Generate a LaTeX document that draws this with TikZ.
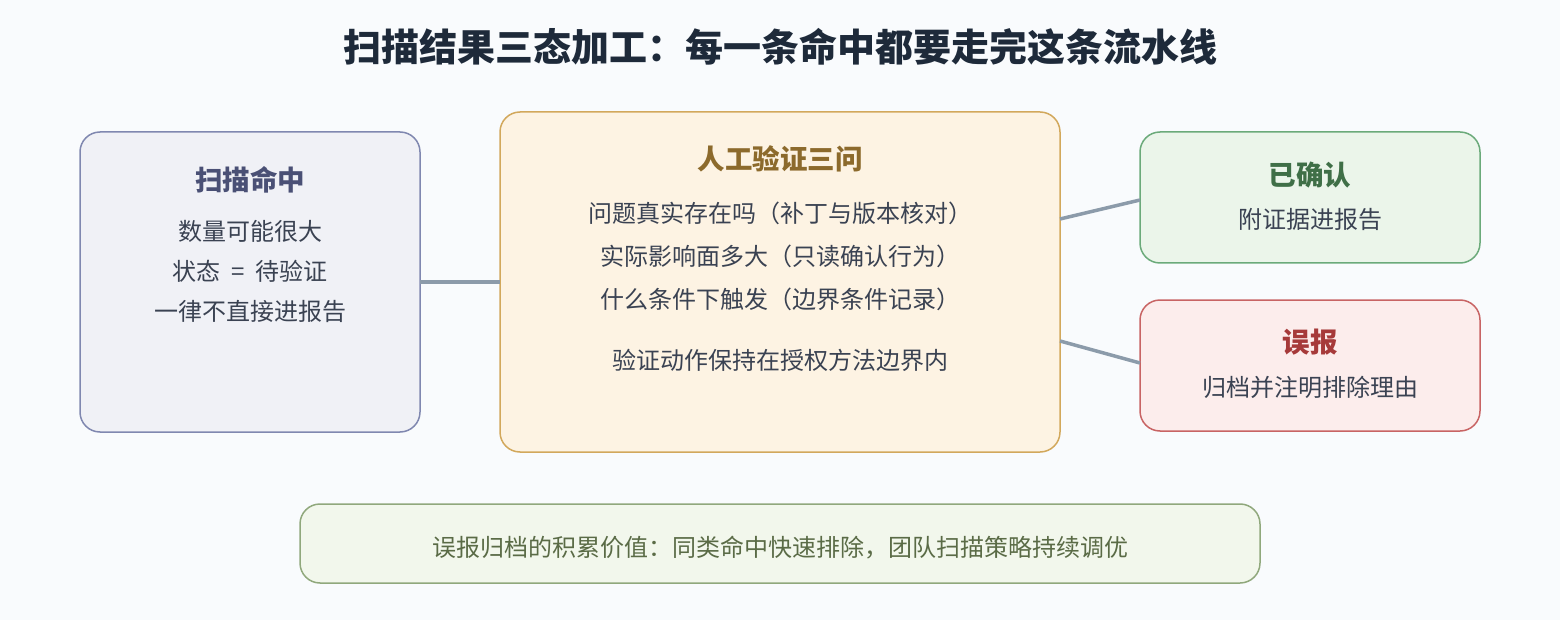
\documentclass[tikz,border=0pt]{standalone}
\usepackage{fontspec}
\setmainfont{Noto Sans CJK SC}
\newfontfamily\cjk{Noto Sans CJK SC}
\usetikzlibrary{positioning}
\definecolor{bgc}{HTML}{F9FBFD}
\definecolor{ttl}{HTML}{1E2A3A}
\definecolor{bodyc}{HTML}{3A4252}
\definecolor{lfill}{HTML}{F0F1F6}
\definecolor{ldraw}{HTML}{8088B0}
\definecolor{ltxt}{HTML}{4A5075}
\definecolor{mfill}{HTML}{FDF3E3}
\definecolor{mdraw}{HTML}{D2A85C}
\definecolor{mtxt}{HTML}{8C6A2C}
\definecolor{gfill}{HTML}{EBF5EA}
\definecolor{gdraw}{HTML}{6BAA7A}
\definecolor{gtxt}{HTML}{3F6F47}
\definecolor{rfill}{HTML}{FCEDEC}
\definecolor{rdraw}{HTML}{C86464}
\definecolor{rtxt}{HTML}{A63A3A}
\definecolor{bfill}{HTML}{F2F7EC}
\definecolor{bdraw}{HTML}{90A87C}
\definecolor{btxt}{HTML}{5A6B46}
\definecolor{linkc}{HTML}{8C9BAA}
\tikzset{
  card/.style={draw, line width=1.5pt, rounded corners=20pt},
  hd/.style={font=\cjk\bfseries\fontsize{27.5}{32}\selectfont, anchor=center, inner sep=0pt},
  tx/.style={font=\cjk\fontsize{24}{28}\selectfont, text=bodyc, anchor=center, inner sep=0pt},
  link/.style={draw=linkc, line width=3.5pt},
}
\begin{document}
\begin{tikzpicture}[x=1pt,y=-1pt]
\fill[bgc] (0,0) rectangle (1560,620);
\useasboundingbox (0,0) rectangle (1560,620);
\node[font=\cjk\bfseries\fontsize{38}{42}\selectfont, text=ttl, inner sep=0pt] (title) at (780,47) {扫描结果三态加工：每一条命中都要走完这条流水线};

% left card
\path[card, fill=lfill, draw=ldraw] (80,132) rectangle (420,432);
\coordinate (lR) at (420,282);
\node[hd, text=ltxt] (lh) at (250,180) {扫描命中};
\node[tx] (l1) at (250,231) {数量可能很大};
\node[tx] (l2) at (250,271) {状态\hspace{0.45em}=\hspace{0.45em}待验证};
\node[tx] (l3) at (250,311) {一律不直接进报告};

% middle card
\path[card, fill=mfill, draw=mdraw] (500,112) rectangle (1060,452);
\coordinate (mL) at (500,282);
\coordinate (mR1) at (1060,219);
\coordinate (mR2) at (1060,341);
\node[hd, text=mtxt] (mh) at (780,159) {人工验证三问};
\node[tx] (m1) at (780,213) {问题真实存在吗（补丁与版本核对）};
\node[tx] (m2) at (780,256) {实际影响面多大（只读确认行为）};
\node[tx] (m3) at (780,299) {什么条件下触发（边界条件记录）};
\node[tx] (m4) at (780,360) {验证动作保持在授权方法边界内};

% confirmed
\path[card, fill=gfill, draw=gdraw] (1140,132) rectangle (1480,263);
\coordinate (gL) at (1140,200);
\node[hd, text=gtxt] (gh) at (1310,175) {已确认};
\node[tx] (g1) at (1310,219) {附证据进报告};

% false positive
\path[card, fill=rfill, draw=rdraw] (1140,300) rectangle (1480,431);
\coordinate (rL) at (1140,363);
\node[hd, text=rtxt] (rh) at (1310,342) {误报};
\node[tx] (r1) at (1310,387) {归档并注明排除理由};

% bottom note
\path[card, fill=bfill, draw=bdraw] (300,504) rectangle (1260,583);
\node[tx, text=btxt] (b1) at (780,548) {误报归档的积累价值：同类命中快速排除，团队扫描策略持续调优};

% connectors
\draw[link] (lR) -- (mL);
\draw[link] (mR1) -- (gL);
\draw[link] (mR2) -- (rL);
\end{tikzpicture}
\end{document}
